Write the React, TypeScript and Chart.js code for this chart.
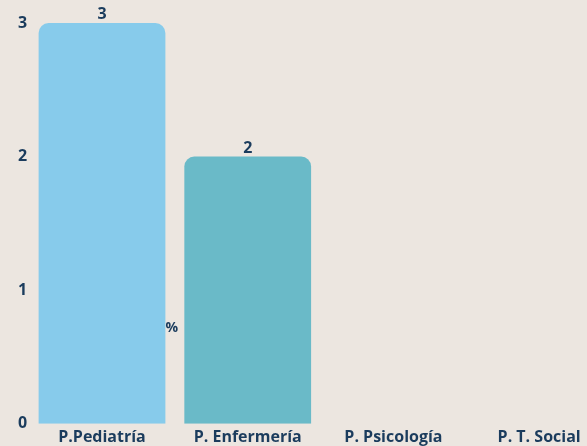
import React, { useEffect, useRef } from "react";
import { Chart, registerables } from "chart.js";

Chart.register(...registerables);

const categories = ["P.Pediatría", "P. Enfermería", "P. Psicología", "P. T. Social"];
const values = [3, 2, 0, 0];
const barColors = ["#87cbeb", "#6abac8", "#87cbeb", "#6abac8"];
const yTicks = [0, 1, 2, 3];
const percentLabel = "%";
const percentY = 0.72;

const BG = "#ece6e0";
const TEXT = "#1b3c5d";
const FONT = "'Open Sans', sans-serif";
const WEIGHT = 700;

export default function App() {
  const ref = useRef<HTMLCanvasElement>(null);
  useEffect(() => {
    document.body.style.background = BG;
    document.body.style.margin = "0";
    document.body.style.overflow = "hidden";
    const labelsPlugin = {
      id: "valueLabels",
      afterDatasetsDraw(chart: any) {
        const ctx = chart.ctx;
        const meta = chart.getDatasetMeta(0);
        ctx.save();
        ctx.fillStyle = TEXT;
        ctx.font = `${WEIGHT} 16px ${FONT}`;
        ctx.textAlign = "center";
        ctx.textBaseline = "alphabetic";
        meta.data.forEach((bar: any, i: number) => {
          if (!values[i]) return;
          ctx.fillText(String(values[i]), bar.x, bar.y - 4);
        });
        const xs = chart.scales.x;
        const ys = chart.scales.y;
        const px = (xs.getPixelForValue(0) + xs.getPixelForValue(1)) / 2 - 3;
        ctx.font = `${WEIGHT} 14px ${FONT}`;
        ctx.textBaseline = "middle";
        ctx.fillText(percentLabel, px, ys.getPixelForValue(percentY));
        ctx.restore();
      },
    };
    const chart = new Chart(ref.current!, {
      type: "bar",
      data: {
        labels: categories,
        datasets: [
          {
            data: values,
            backgroundColor: barColors,
            borderRadius: 10,
            borderSkipped: "bottom",
            barPercentage: 0.87,
            categoryPercentage: 1,
          },
        ],
      },
      options: {
        responsive: false,
        animation: false,
        layout: { padding: { left: 16, top: 23, right: 8, bottom: 0 } },
        plugins: { legend: { display: false }, tooltip: { enabled: false } },
        scales: {
          x: {
            grid: { display: false, drawTicks: false },
            border: { display: false },
            ticks: { color: TEXT, font: { family: FONT, size: 16, weight: WEIGHT }, padding: 4, maxRotation: 0, autoSkip: false },
          },
          y: {
            min: 0,
            max: 3,
            grid: { display: false, drawTicks: false },
            border: { display: false },
            afterBuildTicks: (axis: any) => {
              axis.ticks = yTicks.map((v) => ({ value: v }));
            },
            ticks: { color: TEXT, font: { family: FONT, size: 16, weight: WEIGHT }, padding: 2 },
          },
        },
      },
      plugins: [labelsPlugin],
    });
    return () => chart.destroy();
  }, []);
  return (
    <div style={{ position: "absolute", left: 0, top: 0, width: 620, height: 451, background: BG }}>
      <canvas ref={ref} width={620} height={451} />
    </div>
  );
}
